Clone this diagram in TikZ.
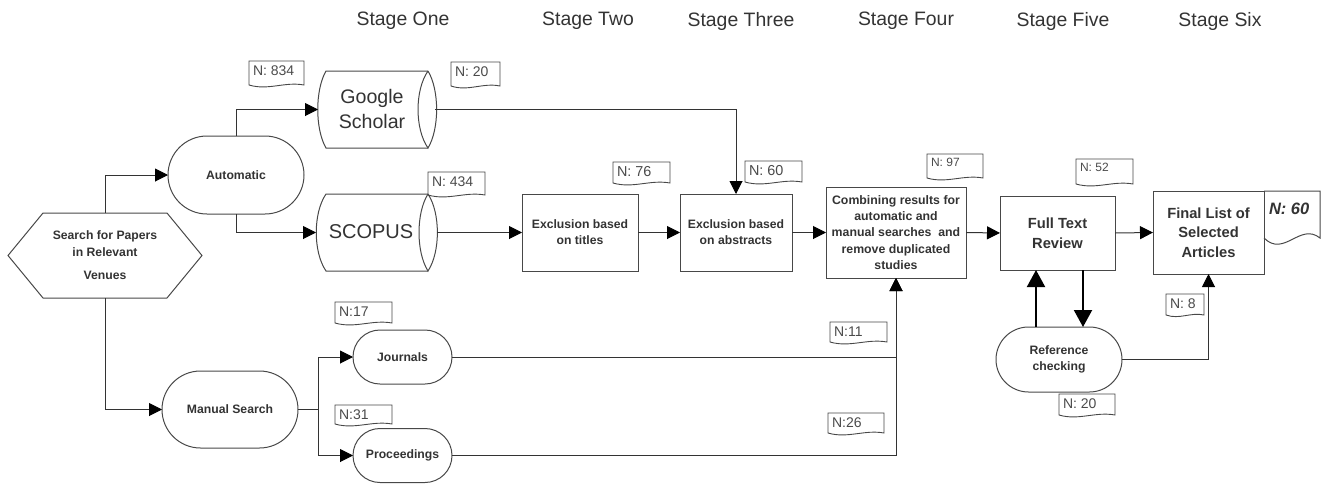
\documentclass[tikz,border=0pt]{standalone}
\usepackage{fontspec}
\setmainfont{Liberation Sans}
\usetikzlibrary{arrows.meta,shapes.misc,calc}
\definecolor{ink}{HTML}{333333}
\definecolor{edge}{HTML}{484848}
\definecolor{soft}{HTML}{4A4A4A}
\newcommand{\fsz}[2]{\fontsize{#1}{#2}\selectfont}
\tikzset{
  every node/.style={inner sep=0pt,outer sep=0pt,text=ink},
  shapeline/.style={draw=edge,line width=1pt},
  flow/.style={draw=ink,line width=1pt,-{Triangle[length=13pt,width=13pt,color=black,fill=black]}},
  plainflow/.style={draw=ink,line width=1pt},
  heavy/.style={draw=black,line width=2pt,-{Triangle[length=17pt,width=18pt]}},
  boxnode/.style={shapeline,rectangle,align=center,font=\bfseries},
  term/.style={shapeline,rounded rectangle,align=center,font=\bfseries},
  stagelabel/.style={font=\fsz{19.4}{22},anchor=center},
  holder/.style={rectangle},
  notetext/.style={anchor=north west,text=soft},
}
% name, x1, y1, x2, y2, dip, font size, text
\newcommand{\docnote}[8]{%
  \draw[draw=edge,line width=0.9pt] (#2,#3) -- (#4,#3) -- (#4,#5)
    .. controls ({#4-0.35*(#4-#2)},{#5-2*#6}) and ({#2+0.35*(#4-#2)},{#5+3.2*#6}) .. (#2,{#5}) -- cycle;
  \node[notetext,font=\fsz{#7}{#7}] (#1) at ({#2+4},{#3+4.5}) {#8};
}
\begin{document}
\begin{tikzpicture}[x=1pt,y=-1pt]
\useasboundingbox (0,0) rectangle (1326,485);
% stage labels
\node[stagelabel] (s1) at (403,21) {Stage One};
\node[stagelabel] (s2) at (588,21) {Stage Two};
\node[stagelabel] (s3) at (741,21) {Stage Three};
\node[stagelabel] (s4) at (906,21) {Stage Four};
\node[stagelabel] (s5) at (1063,21) {Stage Five};
\node[stagelabel] (s6) at (1220,21) {Stage Six};
% hexagon
\node[holder,minimum width=194pt,minimum height=85pt,align=center,font=\bfseries\fsz{12.2}{16.5}] (hex) at (105,255.5) {Search for Papers\\in Relevant\\[7pt]Venues};
\draw[shapeline] (8,255.5) -- (43,213) -- (167,213) -- (202,255.5) -- (167,298) -- (43,298) -- cycle;
% terminators
\node[term,minimum width=136pt,minimum height=78pt,font=\bfseries\fsz{12.2}{14}] (auto) at (236,175) {Automatic};
\node[term,minimum width=136pt,minimum height=77pt,font=\bfseries\fsz{12.2}{14}] (man) at (230,409.5) {Manual Search};
\node[term,minimum width=99pt,minimum height=54pt,font=\bfseries\fsz{12.2}{14}] (jour) at (402.5,357) {Journals};
\node[term,minimum width=99pt,minimum height=54pt,font=\bfseries\fsz{12.2}{14}] (proc) at (402.5,455.5) {Proceedings};
\node[term,minimum width=126pt,minimum height=65pt,font=\bfseries\fsz{12.2}{16.2}] (ref) at (1059,359.5) {Reference\\checking};
% drums
\node[holder,minimum width=117pt,minimum height=77pt] (gs) at (376.5,109.5) {};
\draw[shapeline] (428,71) -- (326,71) .. controls (315,90) and (315,129) .. (326,148) -- (428,148);
\draw[shapeline] (428,71) .. controls (414.7,90) and (414.7,129) .. (428,148) .. controls (439.5,129) and (439.5,90) .. (428,71);
\node[align=center,font=\fsz{19.6}{25}] (gstext) at (372,109) {Google\\Scholar};
\node[holder,minimum width=121pt,minimum height=77pt] (sc) at (376.5,232.5) {};
\draw[shapeline] (428,194) -- (326,194) .. controls (313,213) and (313,252) .. (326,271) -- (428,271);
\draw[shapeline] (428,194) .. controls (416,213) and (416,252) .. (428,271) .. controls (440.5,252) and (440.5,213) .. (428,194);
\node[font=\fsz{20}{24}] (sctext) at (371,232) {SCOPUS};
% boxes
\node[boxnode,minimum width=116pt,minimum height=77pt,font=\bfseries\fsz{12.2}{16}] (titles) at (580,232.5) {Exclusion based\\on titles};
\node[boxnode,minimum width=112pt,minimum height=77pt,font=\bfseries\fsz{12.2}{16}] (abs) at (736,232.5) {Exclusion based\\on abstracts};
\node[boxnode,minimum width=140pt,minimum height=91pt,font=\bfseries\fsz{12.3}{16.3}] (comb) at (896,232.5) {Combining results for\\automatic and\\manual searches~ and\\remove duplicated\\studies};
\node[boxnode,minimum width=115pt,minimum height=74pt,font=\bfseries\fsz{14.7}{19.5}] (full) at (1057.5,233) {Full Text\\Review};
\node[boxnode,minimum width=111pt,minimum height=83pt,font=\bfseries\fsz{14.7}{19.5}] (final) at (1208.5,232.5) {Final List of\\Selected\\Articles};
% connectors
\coordinate (junc) at (318,409.5);
\coordinate (upx) at (1036,300);
\coordinate (downx) at (1083,300);
\draw[flow] (hex.north) |- (auto.west);
\draw[flow] (hex.south) |- (man.west);
\draw[flow] (auto.north) |- (gs.west);
\draw[flow] (auto.south) |- (sc.west);
\draw[flow] (gs.east) -| (abs.north);
\draw[flow] (sc.east) -- (titles.west);
\draw[flow] (titles.east) -- (abs.west);
\draw[flow] (abs.east) -- (comb.west);
\draw[flow] (comb.east) -- (full.west);
\draw[flow] (full.east) -- (final.west);
\draw[plainflow] (man.east) -- (junc);
\draw[flow] (junc) |- (jour.west);
\draw[flow] (junc) |- (proc.west);
\draw[flow] (jour.east) -| (comb.south);
\draw[flow] (proc.east) -| (comb.south);
\draw[flow] (ref.east) -| (final.south);
\draw[heavy] (upx|-ref.north) -- (upx|-full.south);
\draw[heavy] (downx|-full.south) -- (downx|-ref.north);
% notes
\docnote{n834}{249}{61}{304}{85}{1.8}{14}{N: 834}
\docnote{n20a}{451}{62}{500}{86}{1.8}{14}{N: 20}
\docnote{n434}{428}{172}{485}{195}{1.8}{14}{N: 434}
\docnote{n76}{613}{162}{670}{183}{1.8}{14.4}{N: 76}
\docnote{n60a}{745}{161}{802}{182}{1.8}{14.4}{N: 60}
\docnote{n97}{927}{154}{983}{178}{1.8}{12}{N: 97}
\docnote{n52}{1076}{159}{1133}{184}{1.8}{12}{N: 52}
\docnote{n8}{1166}{294}{1204}{315}{1.5}{14}{N: 8}
\docnote{n11}{830}{322}{887}{342}{1.8}{14}{N:11}
\docnote{n26}{828}{413}{884}{433}{1.8}{14}{N:26}
\docnote{n20b}{1059}{394}{1115}{415}{1.8}{14}{N: 20}
\docnote{n17}{335}{302}{392}{323}{1.8}{14}{N:17}
\docnote{n31}{335}{405}{392}{424}{1.8}{14}{N:31}
\draw[draw=edge,line width=1pt] (1264,191) -- (1320,191) -- (1320,238)
  .. controls (1300,222) and (1284,258) .. (1264,238);
\node[anchor=north west,font=\bfseries\itshape\fsz{16.5}{18}] (n60b) at (1269,203) {N: 60};
\end{tikzpicture}
\end{document}
